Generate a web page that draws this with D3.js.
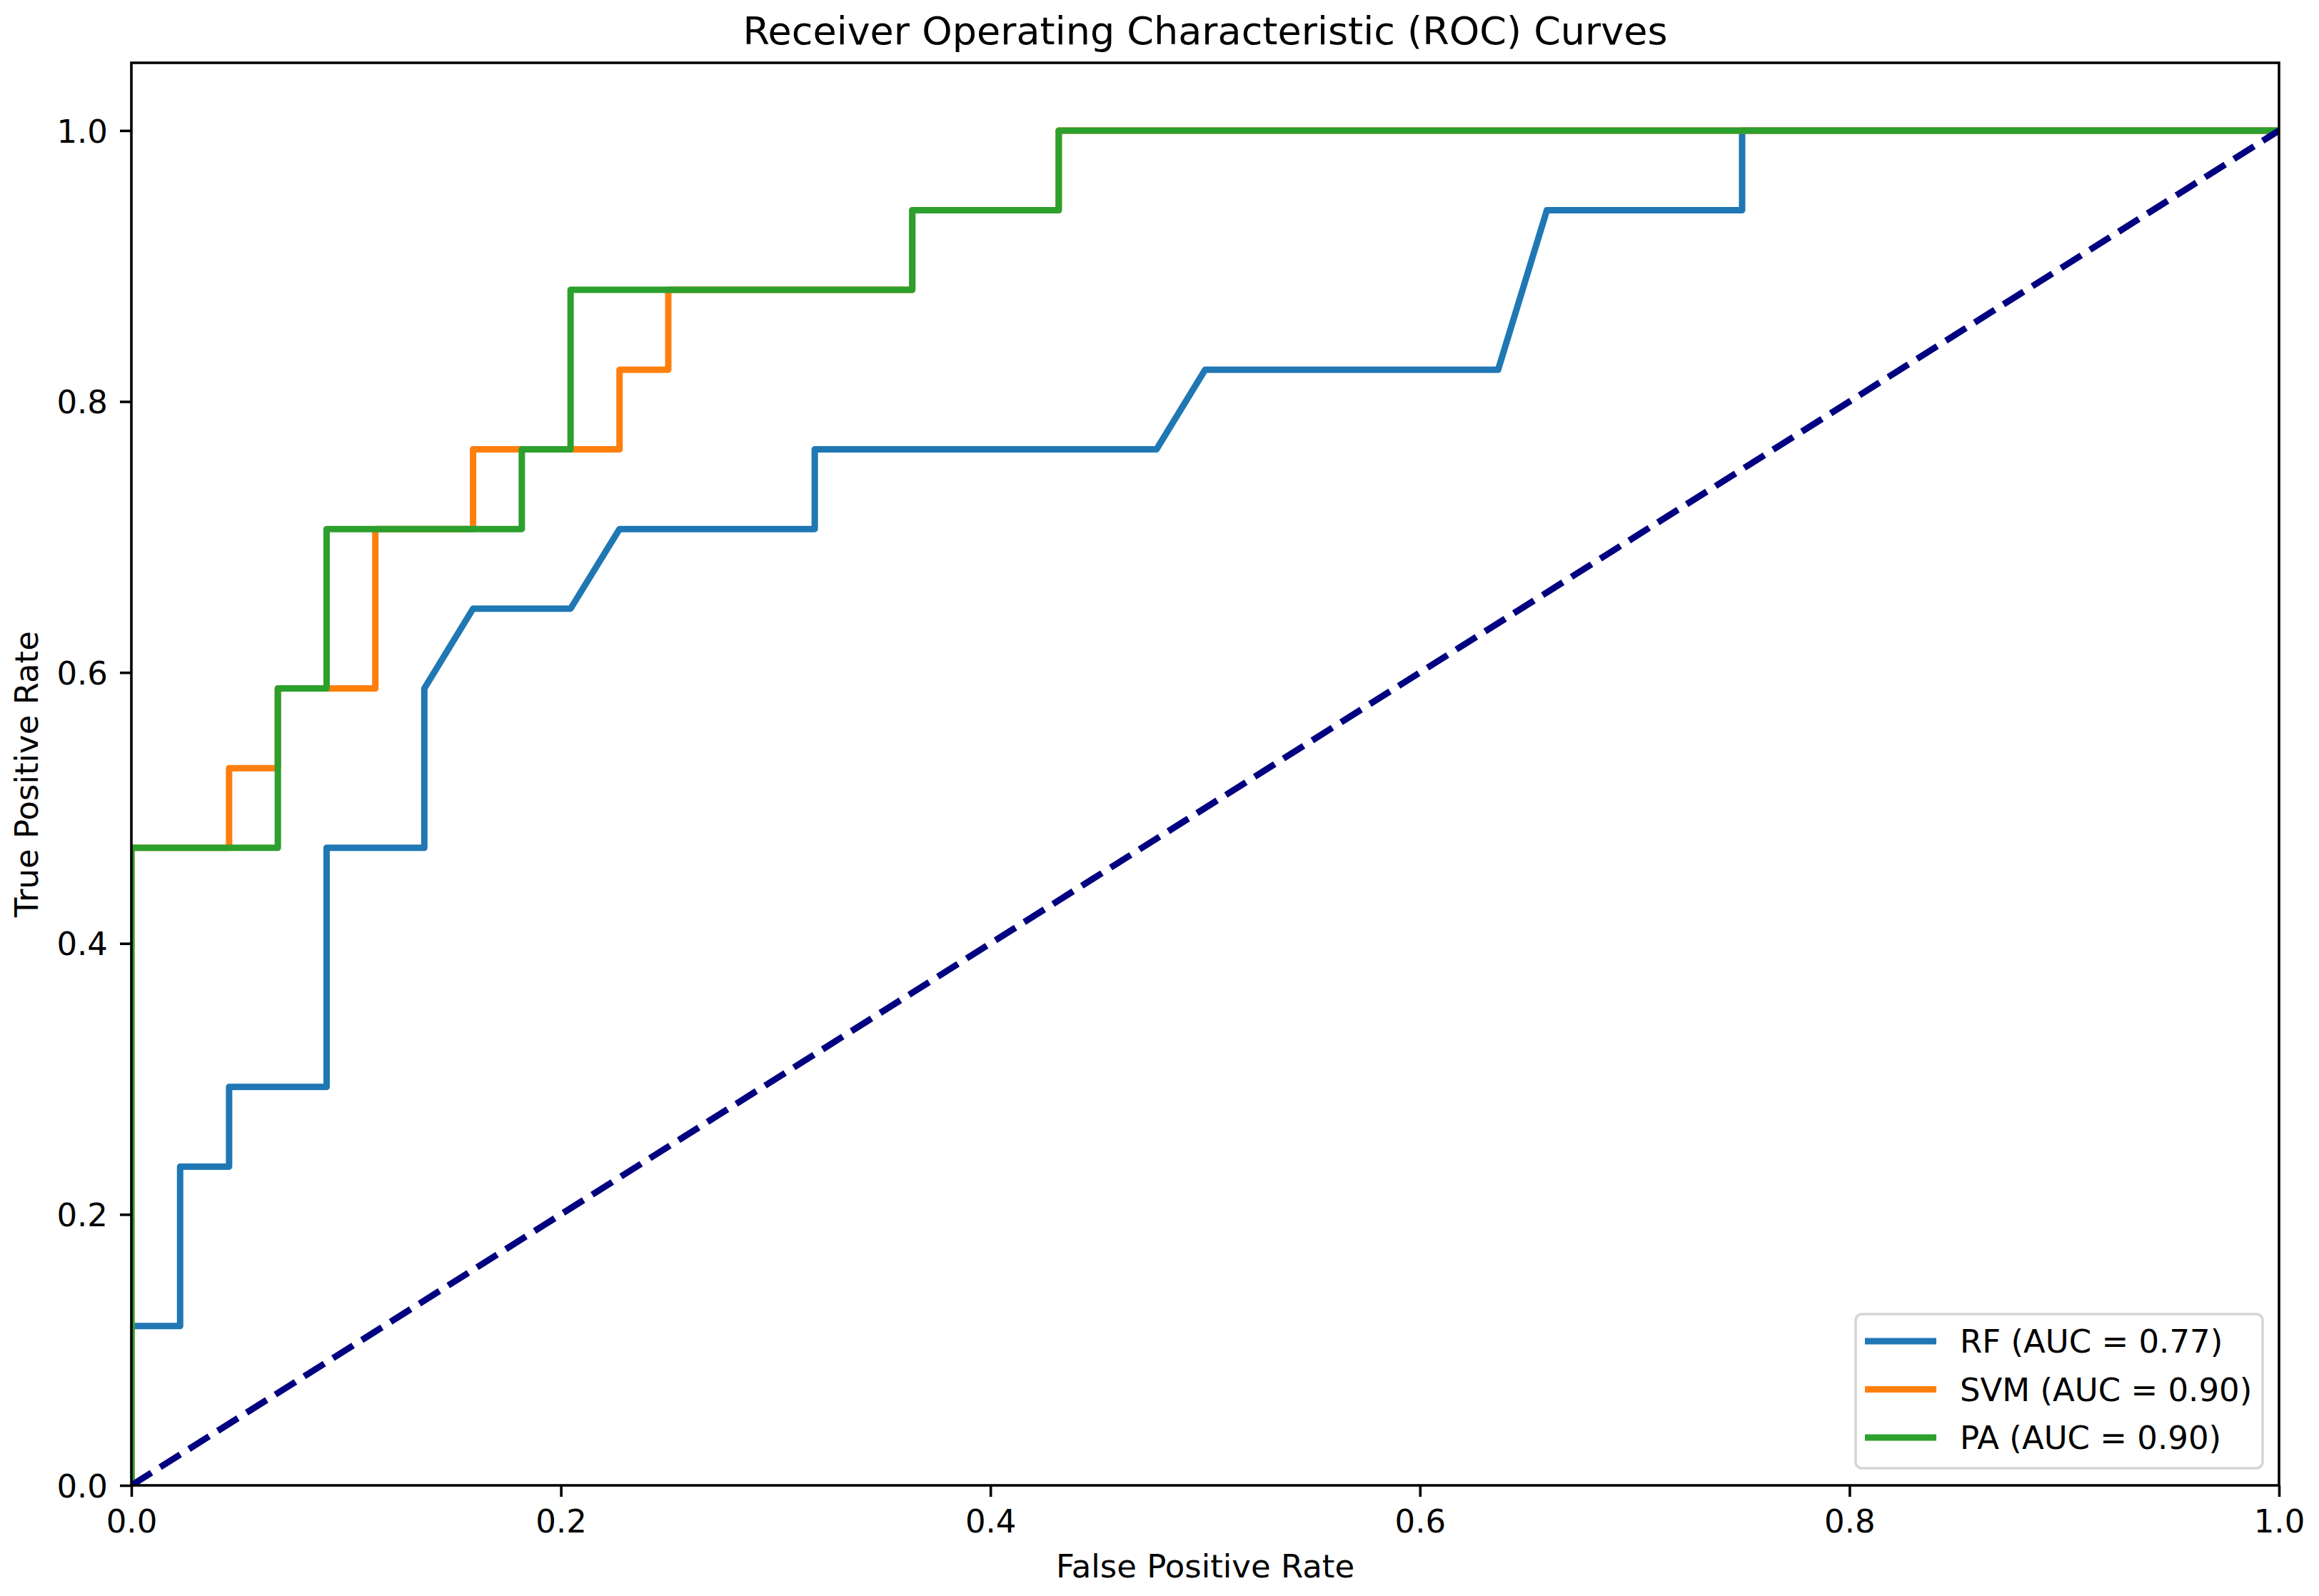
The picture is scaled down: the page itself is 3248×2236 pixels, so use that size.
<!DOCTYPE html>
<html>
<head>
<meta charset="utf-8">
<script src="https://cdn.jsdelivr.net/npm/d3@7"></script>
<style>
  html, body { margin: 0; padding: 0; background: #ffffff; }
  svg { display: block; }
  text { font-family: "DejaVu Sans", sans-serif; }
</style>
</head>
<body>
<svg id="chart" width="3248" height="2236"></svg>
<script>
// ---------------- DATA ----------------
const seriesNames = ["RF", "SVM", "PA"];
const aucValues = [0.77, 0.90, 0.90];
const seriesColors = ["#1f77b4", "#ff7f0e", "#2ca02c"];

const rfFpr = [0, 0, 0.0227, 0.0227, 0.0455, 0.0455, 0.0909, 0.0909, 0.1364, 0.1364, 0.1591, 0.2045, 0.2273, 0.3182, 0.3182, 0.4773, 0.5, 0.6364, 0.6591, 0.75, 0.75, 1.0];
const rfTpr = [0, 0.1176, 0.1176, 0.2353, 0.2353, 0.2941, 0.2941, 0.4706, 0.4706, 0.5882, 0.6471, 0.6471, 0.7059, 0.7059, 0.7647, 0.7647, 0.8235, 0.8235, 0.9412, 0.9412, 1.0, 1.0];

const svmFpr = [0, 0, 0.0455, 0.0455, 0.0682, 0.0682, 0.1136, 0.1136, 0.1591, 0.1591, 0.2273, 0.2273, 0.25, 0.25, 0.3636, 0.3636, 0.4318, 0.4318, 1.0];
const svmTpr = [0, 0.4706, 0.4706, 0.5294, 0.5294, 0.5882, 0.5882, 0.7059, 0.7059, 0.7647, 0.7647, 0.8235, 0.8235, 0.8824, 0.8824, 0.9412, 0.9412, 1.0, 1.0];

const paFpr = [0, 0, 0.0682, 0.0682, 0.0909, 0.0909, 0.1818, 0.1818, 0.2045, 0.2045, 0.3636, 0.3636, 0.4318, 0.4318, 1.0];
const paTpr = [0, 0.4706, 0.4706, 0.5882, 0.5882, 0.7059, 0.7059, 0.7647, 0.7647, 0.8824, 0.8824, 0.9412, 0.9412, 1.0, 1.0];

const chanceFpr = [0, 1];
const chanceTpr = [0, 1];

const xTicks = [0, 0.2, 0.4, 0.6, 0.8, 1.0];
const yTicks = [0, 0.2, 0.4, 0.6, 0.8, 1.0];
const xDomain = [0, 1];
const yDomain = [0, 1.05];

const titleText = "Receiver Operating Characteristic (ROC) Curves";
const xLabelText = "False Positive Rate";
const yLabelText = "True Positive Rate";

// ---------------- LAYOUT ----------------
const W = 3248, H = 2236;
const plot = { left: 184, right: 3192, top: 88, bottom: 2081 };
const FS = 45;          // 10pt at ~325 dpi
const TITLE_FS = 54;    // 12pt
const LW = 9;           // linewidth 2
const SPINE = 3.6;
const TICK = 16;

const svg = d3.select("#chart");
svg.append("rect").attr("width", W).attr("height", H).attr("fill", "#fff");

const x = d3.scaleLinear().domain(xDomain).range([plot.left, plot.right]);
const y = d3.scaleLinear().domain(yDomain).range([plot.bottom, plot.top]);

svg.append("defs").append("clipPath").attr("id", "plotclip")
  .append("rect")
  .attr("x", plot.left).attr("y", plot.top)
  .attr("width", plot.right - plot.left).attr("height", plot.bottom - plot.top);

const series = [
  { fpr: rfFpr, tpr: rfTpr },
  { fpr: svmFpr, tpr: svmTpr },
  { fpr: paFpr, tpr: paTpr }
];

const line = d3.line().x(d => x(d[0])).y(d => y(d[1]));
const gLines = svg.append("g").attr("clip-path", "url(#plotclip)");

series.forEach((s, i) => {
  const pts = s.fpr.map((f, k) => [f, s.tpr[k]]);
  gLines.append("path")
    .attr("d", line(pts))
    .attr("fill", "none")
    .attr("stroke", seriesColors[i])
    .attr("stroke-width", LW)
    .attr("stroke-linejoin", "round")
    .attr("stroke-linecap", "square");
});

gLines.append("path")
  .attr("d", line(chanceFpr.map((f, k) => [f, chanceTpr[k]])))
  .attr("fill", "none")
  .attr("stroke", "#000080")
  .attr("stroke-width", LW)
  .attr("stroke-dasharray", "33.3,14.4")
  .attr("stroke-linecap", "butt");

// ---------------- AXES ----------------
const xAxis = d3.axisBottom(x).tickValues(xTicks).tickFormat(d3.format(".1f"))
  .tickSizeInner(TICK).tickSizeOuter(0).tickPadding(18);
const yAxis = d3.axisLeft(y).tickValues(yTicks).tickFormat(d3.format(".1f"))
  .tickSizeInner(TICK).tickSizeOuter(0).tickPadding(17);

const gx = svg.append("g").attr("transform", `translate(0,${plot.bottom})`).call(xAxis);
const gy = svg.append("g").attr("transform", `translate(${plot.left},0)`).call(yAxis);

[gx, gy].forEach(g => {
  g.select(".domain").remove();
  g.selectAll(".tick line").attr("stroke", "#000").attr("stroke-width", SPINE);
  g.selectAll(".tick text")
    .attr("fill", "#000")
    .attr("font-size", FS)
    .attr("font-family", "DejaVu Sans, sans-serif");
});
gx.selectAll(".tick text").attr("dy", "0.72em");
gy.selectAll(".tick text").attr("dy", "0.36em");

// spines
svg.append("rect")
  .attr("x", plot.left).attr("y", plot.top)
  .attr("width", plot.right - plot.left).attr("height", plot.bottom - plot.top)
  .attr("fill", "none").attr("stroke", "#000").attr("stroke-width", SPINE)
  .attr("stroke-linejoin", "miter");

// ---------------- TEXT ----------------
svg.append("text")
  .attr("x", (plot.left + plot.right) / 2).attr("y", 62)
  .attr("text-anchor", "middle").attr("font-size", TITLE_FS).attr("fill", "#000")
  .text(titleText);

svg.append("text")
  .attr("x", (plot.left + plot.right) / 2).attr("y", 2210)
  .attr("text-anchor", "middle").attr("font-size", FS).attr("fill", "#000")
  .text(xLabelText);

svg.append("text")
  .attr("transform", `translate(53,${(plot.top + plot.bottom) / 2}) rotate(-90)`)
  .attr("text-anchor", "middle").attr("font-size", FS).attr("fill", "#000")
  .text(yLabelText);

// ---------------- LEGEND ----------------
const leg = { x: 2599, y: 1841, w: 570, h: 216 };
svg.append("rect")
  .attr("x", leg.x).attr("y", leg.y).attr("width", leg.w).attr("height", leg.h)
  .attr("rx", 9).attr("ry", 9)
  .attr("fill", "#fff").attr("fill-opacity", 0.8)
  .attr("stroke", "#d6d6d6").attr("stroke-width", SPINE);

const rowY = d3.scaleLinear().domain([0, 2]).range([1879, 2014]);
seriesNames.forEach((name, i) => {
  const cy = rowY(i);
  svg.append("line")
    .attr("x1", 2612).attr("x2", 2712).attr("y1", cy).attr("y2", cy)
    .attr("stroke", seriesColors[i]).attr("stroke-width", LW);
  svg.append("text")
    .attr("x", 2745).attr("y", cy + 16)
    .attr("font-size", FS).attr("fill", "#000")
    .text(`${name} (AUC = ${aucValues[i].toFixed(2)})`);
});
</script>
</body>
</html>
